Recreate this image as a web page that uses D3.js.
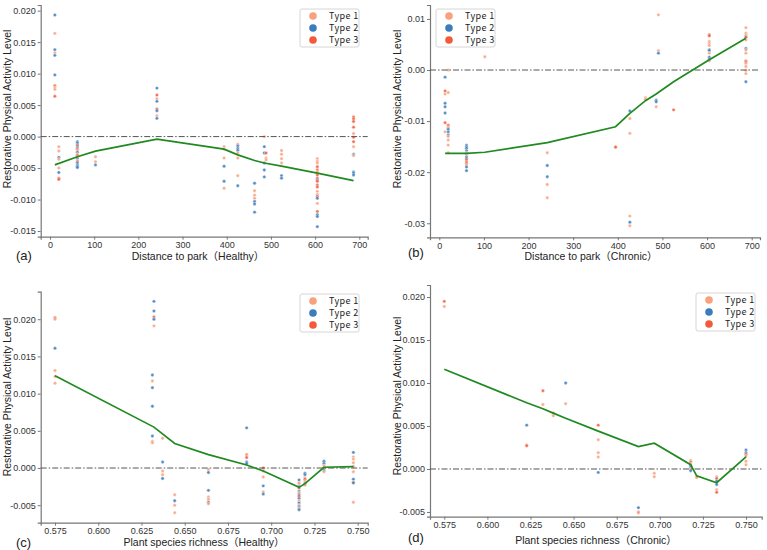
<!DOCTYPE html>
<html>
<head>
<meta charset="utf-8">
<script src="https://cdn.jsdelivr.net/npm/d3@7"></script>
<style>
  body { margin: 0; background: #fff; }
  svg { display: block; font-family: "Liberation Sans", Arial, "Noto Sans CJK SC", sans-serif; }
</style>
</head>
<body>
<svg id="chart" width="767" height="550"></svg>
<script>
// legend / colours
const typeNames = ["Type 1", "Type 2", "Type 3"];
const typeColors = ["#f9a07c", "#3a7dbd", "#f25a3b"];

const distTicks = [0, 100, 200, 300, 400, 500, 600, 700];
const richTicks = [0.575, 0.6, 0.625, 0.65, 0.675, 0.7, 0.725, 0.75];
const yTicksA = [-0.015, -0.01, -0.005, 0, 0.005, 0.01, 0.015, 0.02];
const yTicksB = [-0.03, -0.02, -0.01, 0, 0.01];
const yTicksC = [-0.005, 0, 0.005, 0.01, 0.015, 0.02];
const yTicksD = [-0.005, 0, 0.005, 0.01, 0.015, 0.02];

// points are [x, y, type]
const healthyDistPoints = [
  [11, 0.0193, 2], [11, 0.0164, 1], [11, 0.0138, 2], [11, 0.0133, 1], [11, 0.0129, 2],
  [11, 0.0098, 2], [11, 0.0081, 3], [11, 0.0078, 1], [11, 0.0075, 1], [11, 0.0064, 3],
  [20, -0.0016, 1], [20, -0.0023, 1], [20, -0.0033, 2], [20, -0.0036, 1], [20, -0.0050, 1],
  [20, -0.0057, 2], [20, -0.0066, 3], [20, -0.0068, 3],
  [62, -0.0008, 2], [62, -0.0010, 2], [62, -0.0013, 2], [62, -0.0015, 3], [62, -0.0018, 2],
  [62, -0.0020, 3], [62, -0.0022, 1], [62, -0.0025, 2], [62, -0.0028, 1], [62, -0.0030, 3],
  [62, -0.0033, 1], [62, -0.0035, 2], [62, -0.0038, 1], [62, -0.0040, 3], [62, -0.0042, 2],
  [62, -0.0045, 2], [62, -0.0047, 2], [62, -0.0049, 2],
  [103, -0.0032, 1], [103, -0.0040, 1], [103, -0.0045, 2],
  [242, 0.0077, 2], [242, 0.0066, 3], [242, 0.0060, 1], [242, 0.0056, 2], [242, 0.0044, 3],
  [242, 0.0041, 2], [242, 0.0033, 1], [242, 0.0029, 2],
  [394, -0.0016, 1], [394, -0.0020, 1], [394, -0.0034, 1], [394, -0.0047, 2], [394, -0.0071, 2], [394, -0.0082, 1],
  [425, -0.0012, 1], [425, -0.0015, 2], [425, -0.0019, 2], [425, -0.0022, 2], [425, -0.0026, 1],
  [425, -0.0034, 1], [425, -0.0062, 1], [425, -0.0078, 2],
  [463, -0.0074, 2], [463, -0.0086, 1], [463, -0.0093, 1], [463, -0.0098, 1], [463, -0.0103, 2],
  [463, -0.0107, 2], [463, -0.0120, 2],
  [485, 0.0000, 1], [485, -0.0016, 2], [485, -0.0026, 2], [485, -0.0042, 2], [485, -0.0053, 2], [485, -0.0064, 2],
  [489, -0.0026, 3], [489, -0.0034, 1], [489, -0.0037, 1],
  [524, -0.0022, 1], [524, -0.0028, 1], [524, -0.0035, 1], [524, -0.0042, 1], [524, -0.0062, 2], [524, -0.0066, 2],
  [605, -0.0035, 1], [605, -0.0039, 1], [605, -0.0042, 1], [605, -0.0048, 3], [605, -0.0053, 3],
  [605, -0.0056, 1], [605, -0.0061, 3], [605, -0.0066, 3], [605, -0.0069, 2], [605, -0.0071, 3],
  [605, -0.0077, 3], [605, -0.0080, 3], [605, -0.0087, 1], [605, -0.0092, 1], [605, -0.0095, 3],
  [605, -0.0098, 2], [605, -0.0106, 1], [605, -0.0119, 3], [605, -0.0124, 2], [605, -0.0127, 2], [605, -0.0143, 2],
  [687, 0.0031, 3], [687, 0.0028, 3], [687, 0.0024, 3], [687, 0.0015, 3], [687, 0.0005, 1],
  [687, -0.0001, 3], [687, -0.0008, 3], [687, -0.0016, 1], [687, -0.0028, 2], [687, -0.0030, 1],
  [687, -0.0056, 2], [687, -0.0058, 2], [687, -0.0061, 2]
];
const healthyDistLineX = [11, 62, 103, 242, 394, 425, 463, 485, 524, 605, 687];
const healthyDistLineY = [-0.0045, -0.0032, -0.0023, -0.0004, -0.0020, -0.0029, -0.0038, -0.0042, -0.0047, -0.0058, -0.0070];

const chronicDistPoints = [
  [13, -0.0014, 2], [13, -0.0041, 3], [13, -0.0047, 1], [13, -0.0065, 2], [13, -0.0072, 2],
  [13, -0.0084, 2], [13, -0.0103, 3], [13, -0.0121, 1],
  [20, 0.0000, 1], [20, -0.0044, 1], [20, -0.0108, 3], [20, -0.0112, 1], [20, -0.0116, 2],
  [20, -0.0121, 2], [20, -0.0127, 2], [20, -0.0130, 1], [20, -0.0137, 1], [20, -0.0147, 1], [20, -0.0162, 1],
  [61, -0.0147, 2], [61, -0.0150, 2], [61, -0.0153, 2], [61, -0.0158, 2], [61, -0.0162, 1],
  [61, -0.0165, 1], [61, -0.0170, 2], [61, -0.0173, 2], [61, -0.0176, 3], [61, -0.0180, 3],
  [61, -0.0183, 3], [61, -0.0186, 1], [61, -0.0190, 2], [61, -0.0197, 2],
  [102, 0.0026, 1],
  [242, -0.0162, 1], [242, -0.0187, 2], [242, -0.0209, 2], [242, -0.0224, 1], [242, -0.0250, 1],
  [395, -0.0150, 1], [395, -0.0151, 3],
  [427, -0.0080, 2], [427, -0.0095, 1], [427, -0.0124, 1], [427, -0.0286, 1], [427, -0.0298, 2], [427, -0.0305, 1],
  [462, -0.0054, 1], [462, -0.0057, 1],
  [486, -0.0059, 2], [486, -0.0062, 2], [486, -0.0072, 1],
  [491, 0.0108, 1], [491, 0.0038, 1], [491, 0.0033, 2],
  [525, -0.0078, 3],
  [605, 0.0069, 3], [605, 0.0067, 3], [605, 0.0056, 1], [605, 0.0052, 1], [605, 0.0048, 1],
  [605, 0.0040, 2], [605, 0.0038, 2], [605, 0.0033, 1], [605, 0.0025, 2], [605, 0.0021, 2], [605, 0.0018, 1],
  [687, 0.0083, 1], [687, 0.0072, 1], [687, 0.0068, 1], [687, 0.0065, 2], [687, 0.0064, 3],
  [687, 0.0059, 1], [687, 0.0042, 2], [687, 0.0039, 1], [687, 0.0033, 1], [687, 0.0018, 3],
  [687, 0.0016, 3], [687, 0.0013, 1], [687, 0.0007, 1], [687, -0.0001, 1], [687, -0.0007, 1], [687, -0.0023, 2]
];
const chronicDistLineX = [13, 61, 102, 242, 395, 427, 462, 486, 525, 605, 687];
const chronicDistLineY = [-0.0163, -0.0163, -0.0161, -0.0142, -0.0111, -0.0085, -0.0060, -0.0047, -0.0023, 0.0020, 0.0062];

const healthyRichPoints = [
  [0.575, 0.0202, 3], [0.575, 0.0200, 1], [0.575, 0.0161, 2], [0.575, 0.0131, 1], [0.575, 0.0123, 1], [0.575, 0.0114, 1],
  [0.6322, 0.0224, 2], [0.6322, 0.0211, 2], [0.6322, 0.0203, 3], [0.6322, 0.0200, 2], [0.6322, 0.0191, 1],
  [0.6313, 0.0125, 2], [0.6313, 0.0117, 1], [0.6313, 0.0108, 2], [0.6313, 0.0083, 2], [0.6313, 0.0043, 2],
  [0.6313, 0.0036, 1], [0.6313, 0.0034, 1],
  [0.6372, 0.0040, 1], [0.6372, 0.0008, 2], [0.6372, -0.0004, 1], [0.6372, -0.0009, 1], [0.6372, -0.0014, 2],
  [0.6442, -0.0036, 1], [0.6442, -0.0044, 2], [0.6442, -0.0050, 1], [0.6442, -0.0060, 1],
  [0.6637, -0.0002, 1], [0.6637, -0.0006, 2], [0.6637, -0.0030, 2], [0.6637, -0.0039, 1],
  [0.6637, -0.0042, 1], [0.6637, -0.0046, 2], [0.6637, -0.0048, 1],
  [0.6858, 0.0054, 2], [0.6858, 0.0018, 3], [0.6858, 0.0016, 1], [0.6858, 0.0014, 3], [0.6858, 0.0008, 2], [0.6858, 0.0006, 2],
  [0.6954, 0.0000, 3], [0.6954, -0.0004, 1], [0.6954, -0.0012, 1], [0.6954, -0.0024, 2], [0.6954, -0.0032, 1], [0.6954, -0.0035, 2],
  [0.7161, -0.0016, 2], [0.7161, -0.0020, 3], [0.7161, -0.0021, 1], [0.7161, -0.0025, 2], [0.7161, -0.0027, 3],
  [0.7161, -0.0031, 2], [0.7161, -0.0033, 1], [0.7161, -0.0036, 2], [0.7161, -0.0038, 3], [0.7161, -0.0041, 2],
  [0.7161, -0.0044, 1], [0.7161, -0.0047, 2], [0.7161, -0.0050, 1], [0.7161, -0.0052, 2], [0.7161, -0.0054, 1], [0.7161, -0.0056, 2],
  [0.7195, -0.0007, 2], [0.7195, -0.0009, 2], [0.7195, -0.0013, 1], [0.7195, -0.0015, 3], [0.7195, -0.0018, 1],
  [0.7195, -0.0021, 2], [0.7195, -0.0023, 1],
  [0.7305, 0.0009, 2], [0.7305, 0.0006, 2], [0.7305, 0.0003, 1], [0.7305, 0.0000, 3], [0.7305, -0.0003, 2], [0.7305, -0.0005, 1],
  [0.7475, 0.0021, 2], [0.7475, 0.0015, 1], [0.7475, 0.0012, 1], [0.7475, 0.0007, 1], [0.7475, 0.0002, 1],
  [0.7475, -0.0005, 1], [0.7475, -0.0015, 2], [0.7475, -0.0019, 3], [0.7475, -0.0020, 2], [0.7475, -0.0046, 1]
];
const healthyRichLineX = [0.575, 0.6322, 0.6442, 0.6637, 0.6858, 0.6954, 0.7161, 0.7195, 0.7305, 0.7475];
const healthyRichLineY = [0.0124, 0.0055, 0.0033, 0.0018, 0.0004, -0.0004, -0.0026, -0.0021, 0.0001, 0.0002];

const chronicRichPoints = [
  [0.575, 0.0195, 3], [0.575, 0.0189, 1],
  [0.6228, 0.0051, 2], [0.6228, 0.0028, 1], [0.6228, 0.0027, 3],
  [0.6322, 0.0091, 3], [0.6322, 0.0075, 1],
  [0.6382, 0.0065, 3], [0.6382, 0.0062, 1],
  [0.6454, 0.0100, 2], [0.6454, 0.0076, 1],
  [0.6643, 0.0051, 3], [0.6643, 0.0034, 1], [0.6643, 0.0019, 1], [0.6643, 0.0014, 1], [0.6643, -0.0004, 2],
  [0.6876, -0.0045, 2], [0.6876, -0.0050, 3], [0.6876, -0.0051, 1],
  [0.6968, -0.0005, 1], [0.6968, -0.0009, 1],
  [0.7179, 0.0010, 1], [0.7179, 0.0008, 3], [0.7179, 0.0006, 1], [0.7179, 0.0004, 2],
  [0.7179, 0.0002, 2], [0.7179, 0.0000, 1], [0.7179, -0.0002, 2],
  [0.7214, -0.0009, 3], [0.7214, -0.0010, 1],
  [0.733, -0.0009, 1], [0.733, -0.0011, 3], [0.733, -0.0014, 2], [0.733, -0.0018, 2], [0.733, -0.0024, 1], [0.733, -0.0027, 3],
  [0.75, 0.0022, 2], [0.75, 0.0019, 2], [0.75, 0.0017, 3], [0.75, 0.0015, 1], [0.75, 0.0009, 1], [0.75, 0.0005, 1]
];
const chronicRichLineX = [0.575, 0.6228, 0.6322, 0.6382, 0.6454, 0.6643, 0.6876, 0.6968, 0.7179, 0.7214, 0.733, 0.75];
const chronicRichLineY = [0.0116, 0.0077, 0.0070, 0.0065, 0.0059, 0.0044, 0.0026, 0.0030, 0.0005, -0.0008, -0.0016, 0.0014];

const yTitle = "Restorative Physical Activity Level";

const locale = d3.formatLocale({ decimal: ".", thousands: ",", grouping: [3], currency: ["", ""], minus: "-" });
const fmt3 = locale.format(".3f");
const fmt2 = locale.format(".2f");

const svg = d3.select("#chart");

function drawPanel(p) {
  const x = d3.scaleLinear().domain(p.xDomain).range([p.left, p.right]);
  const y = d3.scaleLinear().domain(p.yDomain).range([p.bottom, p.top]);
  const g = svg.append("g");

  // axes (only left + bottom)
  const xAxis = g.append("g")
    .attr("transform", `translate(0,${p.bottom})`)
    .call(d3.axisBottom(x).tickValues(p.xTicks).tickFormat(p.xFmt).tickSizeOuter(0).tickSize(3).tickPadding(2));
  const yAxis = g.append("g")
    .attr("transform", `translate(${p.left},0)`)
    .call(d3.axisLeft(y).tickValues(p.yTicks).tickFormat(p.yFmt).tickSizeOuter(0).tickSize(3).tickPadding(2));
  [xAxis, yAxis].forEach(a => {
    a.select(".domain").attr("stroke", "#777").attr("stroke-width", 1.2);
    a.selectAll(".tick line").attr("stroke", "#777");
    a.selectAll(".tick text").attr("fill", "#333").style("font-size", "9px");
  });

  // scatter points
  g.append("g").selectAll("circle")
    .data(p.points)
    .enter()
    .append("circle")
    .attr("cx", d => x(d[0]))
    .attr("cy", d => y(d[1]))
    .attr("r", 1.7)
    .attr("fill", d => typeColors[d[2] - 1])
    .attr("fill-opacity", 0.85)
    .attr("stroke", "#fff")
    .attr("stroke-width", 0.4);

  // zero reference
  g.append("line")
    .attr("x1", p.left).attr("x2", p.right)
    .attr("y1", y(0)).attr("y2", y(0))
    .attr("stroke", "#555")
    .attr("stroke-width", 1)
    .attr("stroke-dasharray", "6,2,1.5,2");

  // trend line
  const line = d3.line().x(d => x(d[0])).y(d => y(d[1]));
  g.append("path")
    .datum(p.lineX.map((v, i) => [v, p.lineY[i]]))
    .attr("d", line)
    .attr("fill", "none")
    .attr("stroke", "#1f8a1f")
    .attr("stroke-width", 1.7);

  // titles
  g.append("text")
    .attr("x", p.xTitlePos[0]).attr("y", p.xTitlePos[1])
    .attr("dy", "0.35em")
    .attr("text-anchor", "middle")
    .style("font-size", "10.5px")
    .attr("fill", "#222")
    .text(p.xTitle);
  g.append("text")
    .attr("transform", `translate(${p.yTitlePos[0]},${p.yTitlePos[1]}) rotate(-90)`)
    .attr("dy", "0.35em")
    .attr("text-anchor", "middle")
    .style("font-size", "10.5px")
    .attr("fill", "#222")
    .text(yTitle);
  g.append("text")
    .attr("x", p.tagPos[0]).attr("y", p.tagPos[1])
    .attr("dy", "0.35em")
    .style("font-size", "13px")
    .attr("fill", "#222")
    .text(p.tag);

  // legend
  const lg = g.append("g").attr("transform", `translate(${p.legend[0]},${p.legend[1]})`);
  lg.append("rect")
    .attr("width", 59).attr("height", 38)
    .attr("rx", 2)
    .attr("fill", "#fff")
    .attr("stroke", "#d6d6d6");
  const items = lg.selectAll("g.item")
    .data(typeNames)
    .enter()
    .append("g")
    .attr("class", "item")
    .attr("transform", (d, i) => `translate(0,${7 + i * 12})`);
  items.append("circle")
    .attr("cx", 13).attr("cy", 0).attr("r", 3.8)
    .attr("fill", (d, i) => typeColors[i]);
  items.append("text")
    .attr("x", 29).attr("dy", "0.35em")
    .style("font-family", "'Noto Sans CJK SC', sans-serif")
    .style("font-size", "9px")
    .style("letter-spacing", "0.4px")
    .attr("fill", "#222")
    .text(d => d);
}

drawPanel({
  left: 40.7, right: 367.7, top: 5, bottom: 236.7,
  xDomain: [-21, 719], yDomain: [-0.0159, 0.0209],
  xTicks: distTicks, yTicks: yTicksA, xFmt: d => d, yFmt: fmt3,
  points: healthyDistPoints, lineX: healthyDistLineX, lineY: healthyDistLineY,
  xTitle: "Distance to park（Healthy）", xTitlePos: [198, 256], yTitlePos: [7, 109],
  tag: "(a)", tagPos: [16, 255], legend: [300, 9]
});
drawPanel({
  left: 430, right: 760, top: 5, bottom: 237.3,
  xDomain: [-20.8, 718.6], yDomain: [-0.03275, 0.01273],
  xTicks: distTicks, yTicks: yTicksB, xFmt: d => d, yFmt: fmt2,
  points: chronicDistPoints, lineX: chronicDistLineX, lineY: chronicDistLineY,
  xTitle: "Distance to park（Chronic）", xTitlePos: [591, 256], yTitlePos: [397, 109],
  tag: "(b)", tagPos: [408, 252], legend: [436, 9]
});
drawPanel({
  left: 40.7, right: 367.7, top: 291.7, bottom: 522.7,
  xDomain: [0.56673, 0.75578], yDomain: [-0.00735, 0.0237],
  xTicks: richTicks, yTicks: yTicksC, xFmt: fmt3, yFmt: fmt3,
  points: healthyRichPoints, lineX: healthyRichLineX, lineY: healthyRichLineY,
  xTitle: "Plant species richness（Healthy）", xTitlePos: [204, 542], yTitlePos: [7, 397],
  tag: "(c)", tagPos: [16, 542], legend: [300, 294]
});
drawPanel({
  left: 430, right: 761.7, top: 285, bottom: 516.7,
  xDomain: [0.56671, 0.75911], yDomain: [-0.00555, 0.0214],
  xTicks: richTicks, yTicks: yTicksD, xFmt: fmt3, yFmt: fmt3,
  points: chronicRichPoints, lineX: chronicRichLineX, lineY: chronicRichLineY,
  xTitle: "Plant species richness（Chronic）", xTitlePos: [596, 540], yTitlePos: [397, 396],
  tag: "(d)", tagPos: [408, 537], legend: [696, 293]
});
</script>
</body>
</html>
